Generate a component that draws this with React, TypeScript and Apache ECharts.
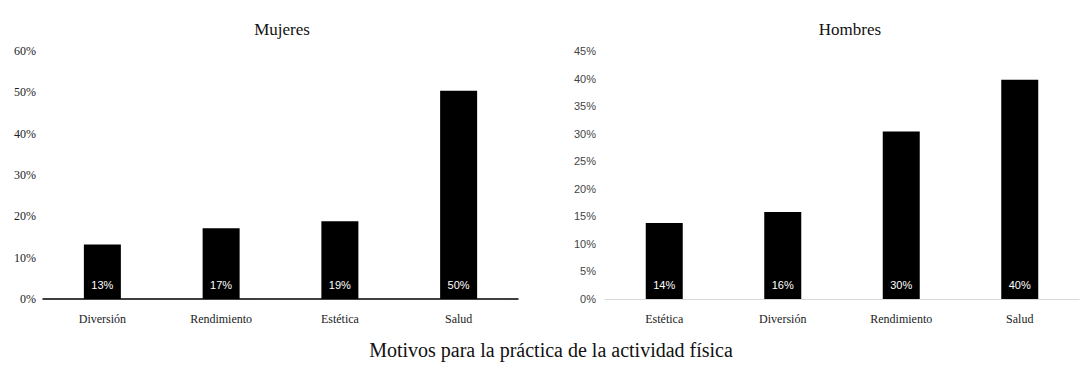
import React, { useEffect, useRef } from "react";
import * as echarts from "echarts";

const womenCategories = ["Diversión", "Rendimiento", "Estética", "Salud"];
const womenValues = [13.2, 17.1, 18.8, 50.4];
const menCategories = ["Estética", "Diversión", "Rendimiento", "Salud"];
const menValues = [13.8, 15.8, 30.4, 39.8];
const womenTitle = "Mujeres";
const menTitle = "Hombres";
const bottomTitle = "Motivos para la práctica de la actividad física";

export default function App() {
  const ref = useRef<HTMLDivElement>(null);
  useEffect(() => {
    document.body.style.margin = "0";
    const chart = echarts.init(ref.current!, null, { renderer: "svg" });
    const serif = "'Liberation Serif', 'Times New Roman', serif";
    const sans = "'Liberation Sans', Arial, sans-serif";
    const catLabel = {
      fontFamily: serif,
      fontSize: 12,
      color: "#222",
      margin: 14,
      interval: 0,
    };
    const barLabel = {
      show: true,
      position: "insideBottom",
      distance: 9,
      color: "#fff",
      textBorderWidth: 0,
      fontFamily: sans,
      fontSize: 11,
      formatter: (p: any) => Math.round(p.value) + "%",
    };
    chart.setOption({
      animation: false,
      backgroundColor: "#fff",
      title: [
        { text: womenTitle, left: 277, top: 16, textAlign: "center", textStyle: { fontFamily: serif, fontSize: 17, fontWeight: "normal", color: "#111" } },
        { text: menTitle, left: 845, top: 16, textAlign: "center", textStyle: { fontFamily: serif, fontSize: 17, fontWeight: "normal", color: "#111" } },
        { text: bottomTitle, left: 546, top: 335, textAlign: "center", textStyle: { fontFamily: serif, fontSize: 20, fontWeight: "normal", color: "#111" } },
      ],
      grid: [
        { left: 43, top: 51, width: 475, height: 248 },
        { left: 605, top: 51, width: 474, height: 248 },
      ],
      xAxis: [
        {
          type: "category", gridIndex: 0, data: womenCategories,
          axisLine: { lineStyle: { color: "#000", width: 1.5 } },
          axisTick: { show: false }, axisLabel: catLabel,
        },
        {
          type: "category", gridIndex: 1, data: menCategories,
          axisLine: { lineStyle: { color: "#d9d9d9", width: 1 } },
          axisTick: { show: false }, axisLabel: catLabel,
        },
      ],
      yAxis: [
        {
          type: "value", gridIndex: 0, min: 0, max: 60, interval: 10,
          splitLine: { show: false }, axisLine: { show: false }, axisTick: { show: false },
          axisLabel: { formatter: "{value}%", fontFamily: serif, fontSize: 12, color: "#222", margin: 7 },
        },
        {
          type: "value", gridIndex: 1, min: 0, max: 45, interval: 5,
          splitLine: { show: false }, axisLine: { show: false }, axisTick: { show: false },
          axisLabel: { formatter: "{value}%", fontFamily: sans, fontSize: 11, color: "#444", margin: 9 },
        },
      ],
      series: [
        {
          type: "bar", xAxisIndex: 0, yAxisIndex: 0, data: womenValues,
          barWidth: 37, itemStyle: { color: "#000" }, label: barLabel,
        },
        {
          type: "bar", xAxisIndex: 1, yAxisIndex: 1, data: menValues,
          barWidth: 37, itemStyle: { color: "#000" }, label: barLabel,
        },
      ],
    });
    return () => chart.dispose();
  }, []);
  return <div ref={ref} style={{ position: "fixed", left: 0, top: 0, width: 1091, height: 368 }} />;
}
